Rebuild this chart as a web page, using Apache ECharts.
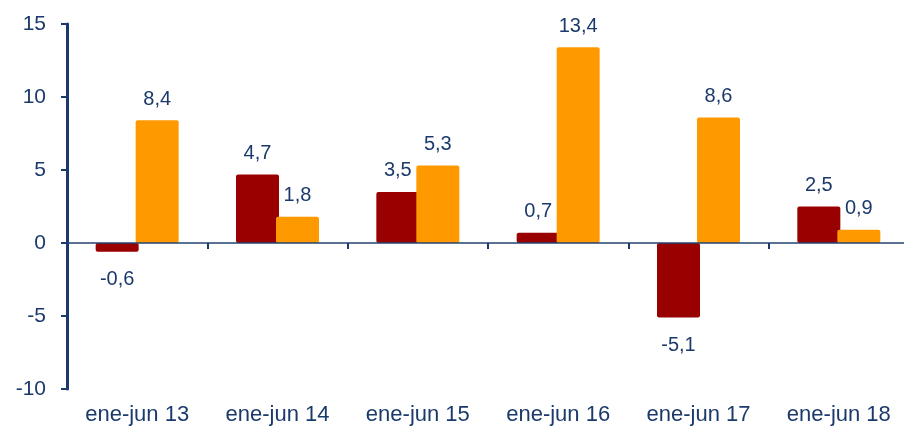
<!DOCTYPE html>
<html>
<head>
<meta charset="utf-8">
<script src="https://cdn.jsdelivr.net/npm/echarts@6/dist/echarts.min.js"></script>
<style>
  html, body { margin: 0; padding: 0; background: #fff; overflow: hidden; }
  /* el eje x sigue un poco más allá del borde derecho, como en el original */
  #chart { width: 910px; height: 434px; }
</style>
</head>
<body>
<div id="chart"></div>
<script>
var categories = ['ene-jun 13', 'ene-jun 14', 'ene-jun 15', 'ene-jun 16', 'ene-jun 17', 'ene-jun 18'];
var serieRoja = [-0.6, 4.7, 3.5, 0.7, -5.1, 2.5];
var serieNaranja = [8.4, 1.8, 5.3, 13.4, 8.6, 0.9];

var azul = '#1b3a6b';

// etiqueta arriba si es positivo, abajo si es negativo
function conEtiquetas(valores) {
    return valores.map(function (v) {
        return {
            value: v,
            label: { position: v < 0 ? 'bottom' : 'top', distance: v < 0 ? 18 : 11 }
        };
    });
}

var etiqueta = {
    show: true,
    color: azul,
    fontSize: 20,
    fontFamily: 'Liberation Sans',
    formatter: function (p) {
        return String(p.value).replace('.', ',');
    }
};

var chart = echarts.init(document.getElementById('chart'));
chart.setOption({
    animation: false,
    grid: { left: 67, right: 1, top: 24, bottom: 45 },
    xAxis: [
        {
            type: 'category',
            data: categories,
            z: 5,
            axisLine: { onZero: true, lineStyle: { color: '#24436f', width: 1.5 } },
            axisTick: { show: true, length: 6, lineStyle: { color: azul, width: 2 } },
            axisLabel: { show: false }
        },
        {
            type: 'category',
            data: categories,
            position: 'bottom',
            axisLine: { show: false },
            axisTick: { show: false },
            axisLabel: { color: azul, fontSize: 22, fontFamily: 'Liberation Sans', margin: 15 }
        }
    ],
    yAxis: {
        type: 'value',
        min: -10,
        max: 15,
        interval: 5,
        z: 5,
        axisLine: { show: true, lineStyle: { color: azul, width: 3 } },
        axisTick: { show: true, length: 6, lineStyle: { color: azul, width: 2 } },
        axisLabel: { color: azul, fontSize: 21, fontFamily: 'Liberation Sans', margin: 21 },
        splitLine: { show: false }
    },
    series: [
        {
            type: 'bar',
            data: conEtiquetas(serieRoja),
            barWidth: 43,
            barGap: '-7%',
            itemStyle: { color: '#990000', borderRadius: 2 },
            label: etiqueta
        },
        {
            type: 'bar',
            data: conEtiquetas(serieNaranja),
            barWidth: 43,
            itemStyle: { color: '#ff9900', borderRadius: 2 },
            label: etiqueta
        }
    ]
});
</script>
</body>
</html>
